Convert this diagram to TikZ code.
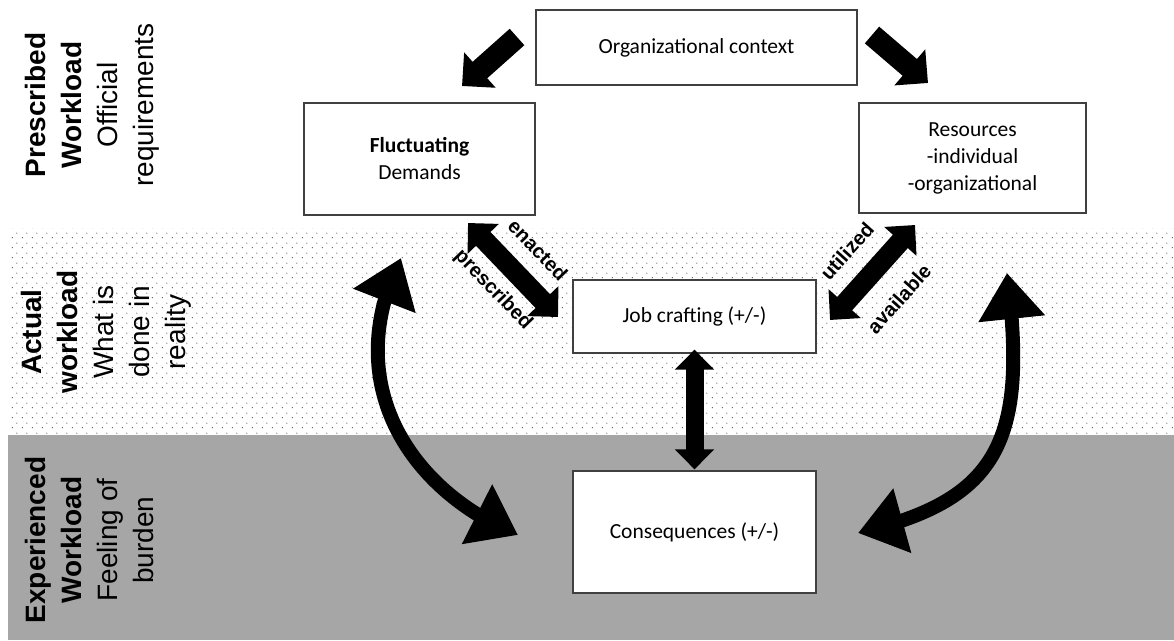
\documentclass[tikz,border=0pt]{standalone}
\usepackage{fontspec}
\setmainfont{Carlito}
\newfontfamily\arialf{Liberation Sans}
\usetikzlibrary{arrows.meta,patterns,bending}
\pgfdeclarepatternformonly{pdots}{\pgfpointorigin}{\pgfpoint{10pt}{10pt}}{\pgfpoint{10pt}{10pt}}{%
  \pgfpathcircle{\pgfpoint{2.5pt}{2.5pt}}{0.6pt}%
  \pgfpathcircle{\pgfpoint{7.5pt}{7.5pt}}{0.6pt}%
  \pgfusepath{fill}}
\definecolor{bandgray}{HTML}{A6A6A6}
\begin{document}
\begin{tikzpicture}[x=1pt,y=-1pt,
  box/.style={draw=black!75, line width=1.2pt, fill=white, inner sep=0pt,
    font=\fontsize{21.5}{27}\selectfont, align=center},
  side/.style={rotate=90, align=center, inner sep=0pt,
    font=\arialf\fontsize{28}{36}\selectfont},
  lab/.style={font=\arialf\bfseries\fontsize{20}{22}\selectfont, inner sep=0pt},
  bigarrow/.style={line width=22pt, -{Triangle[length=24pt,width=46pt]}},
  dblarrow/.style={line width=20pt, {Triangle[length=22pt,width=42pt]}-{Triangle[length=22pt,width=42pt]}},
  vertarrow/.style={line width=18pt, {Triangle[length=20pt,width=38pt]}-{Triangle[length=20pt,width=38pt]}},
  curvearrow/.style={line width=14pt, {Triangle[length=46pt,width=64pt]}-{Triangle[length=46pt,width=64pt]}}
]
\useasboundingbox (0,0) rectangle (1174,640);
\fill[white] (0,0) rectangle (1174,640);
\fill[pattern=pdots, pattern color=black!80] (8,228) rectangle (1174,435);
\fill[bandgray] (8,435) rectangle (1174,640);

% side labels
\node[side] (pw) at (92,105) {\bfseries Prescribed\\\bfseries Workload\\Official\\requirements};
\node[side] (aw) at (106,332) {\bfseries Actual\\\bfseries workload\\What is\\done in\\reality};
\node[side] (ew) at (89,540) {\bfseries Experienced\\\bfseries Workload\\Feeling of\\burden};

% boxes
\node[box, minimum width=321pt, minimum height=75pt] (org) at (696.5,47.5) {Organizational context};
\node[box, minimum width=231pt, minimum height=112pt] (flu) at (419.5,159) {\textbf{Fluctuating}\\Demands};
\node[box, minimum width=227pt, minimum height=110pt] (res) at (972.5,158) {Resources\\-individual\\-organizational};
\node[box, minimum width=243pt, minimum height=73pt] (job) at (694.5,316.5) {Job crafting (+/-)};
\node[box, minimum width=243pt, minimum height=122pt] (con) at (694.5,532) {Consequences (+/-)};

% arrow end points
\coordinate (olt) at (517,37);
\coordinate (oltip) at (462,86);
\coordinate (ort) at (872,35);
\coordinate (ortip) at (928,83);
\coordinate (ea) at (468,223);
\coordinate (eb) at (558,317);
\coordinate (ua) at (915,225);
\coordinate (ub) at (830,320);
\coordinate (lt) at (401,258);
\coordinate (lb) at (518,535);
\coordinate (rt) at (1007,273);
\coordinate (rb) at (858,533);

\draw[bigarrow] (olt) -- (oltip);
\draw[bigarrow] (ort) -- (ortip);
\draw[dblarrow] (ea) -- (eb);
\draw[dblarrow] (ua) -- (ub);
\draw[vertarrow] ([yshift=4pt]job.south) -- ([yshift=1pt]con.north);
\draw[curvearrow] (lt) .. controls (338,385) and (412,492) .. (lb);
\draw[curvearrow] (rt) .. controls (1028,440) and (1000,500) .. (rb);

% arrow labels
\node[lab, rotate=-46] (enl) at (538,250) {enacted};
\node[lab, rotate=-46] (prl) at (493,290) {prescribed};
\node[lab, rotate=48] (utl) at (847,251) {utilized};
\node[lab, rotate=48] (avl) at (899,299) {available};
\end{tikzpicture}
\end{document}
